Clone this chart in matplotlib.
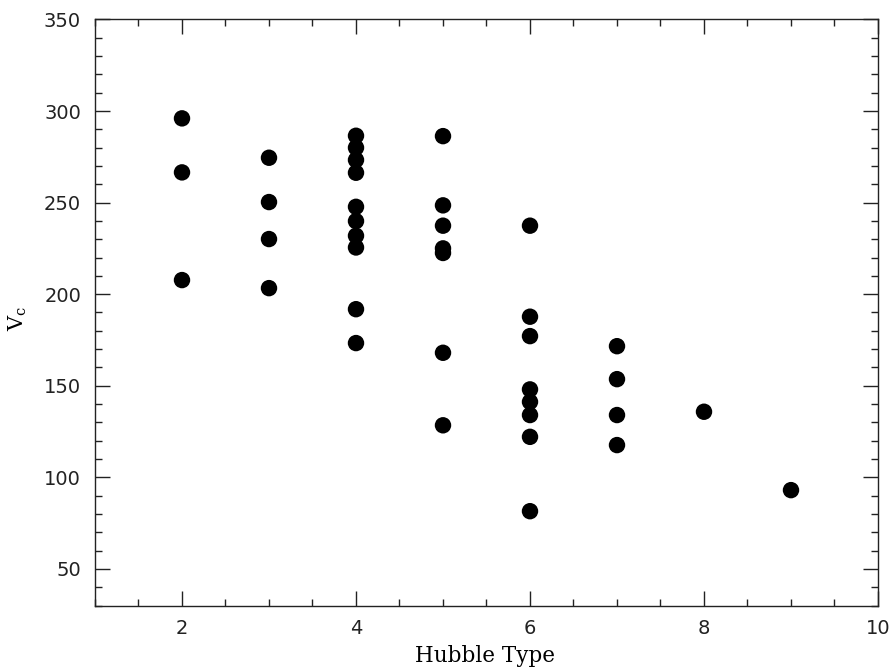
import matplotlib
matplotlib.use("Agg")
import matplotlib.pyplot as plt
from matplotlib.ticker import MultipleLocator

hubble_type = [2, 2, 2,
               3, 3, 3, 3,
               4, 4, 4, 4, 4, 4, 4, 4, 4, 4,
               5, 5, 5, 5, 5, 5, 5,
               6, 6, 6, 6, 6, 6, 6, 6,
               7, 7, 7, 7,
               8,
               9]
vc = [296, 266.5, 207.7,
      274.5, 250.3, 230.1, 203.3,
      286.5, 280, 273.3, 266.3, 247.7, 239.9, 231.9, 225.5, 191.8, 173.3,
      286.3, 248.5, 237.4, 225, 222.5, 168, 128.4,
      237.4, 187.7, 177.1, 148, 141.2, 134, 122.1, 81.5,
      171.6, 153.6, 134, 117.6,
      135.8,
      93]

plt.rcParams['font.family'] = ['DejaVu Sans']
plt.rcParams['mathtext.fontset'] = 'dejavuserif'

fig = plt.figure(figsize=(8.92, 6.67), dpi=100)
ax = fig.add_axes([0.1065, 0.0922, 0.8778, 0.8786])
ax.scatter(hubble_type, vc, s=140, color='black', edgecolors='none', zorder=3)

ax.set_xlim(1, 10)
ax.set_ylim(30, 350)
ax.xaxis.set_major_locator(MultipleLocator(2))
ax.xaxis.set_minor_locator(MultipleLocator(0.5))
ax.yaxis.set_major_locator(MultipleLocator(50))
ax.yaxis.set_minor_locator(MultipleLocator(10))
ax.tick_params(which='both', direction='in', top=True, right=True, colors='#222222',
               labelsize=14, width=1.0)
ax.tick_params(which='major', length=11, pad=10)
ax.tick_params(which='minor', length=5)
for sp in ax.spines.values():
    sp.set_linewidth(1.0)
    sp.set_color('#222222')

ax.set_xlabel('Hubble Type', fontsize=15.5, family='DejaVu Serif', va='center')
ax.xaxis.set_label_coords(0.498, -0.086)
ax.set_ylabel(r'$\mathrm{V_c}$', fontsize=15, va='center')
ax.yaxis.set_label_coords(-0.098, 0.49)

fig.savefig('out.png', dpi=100)
